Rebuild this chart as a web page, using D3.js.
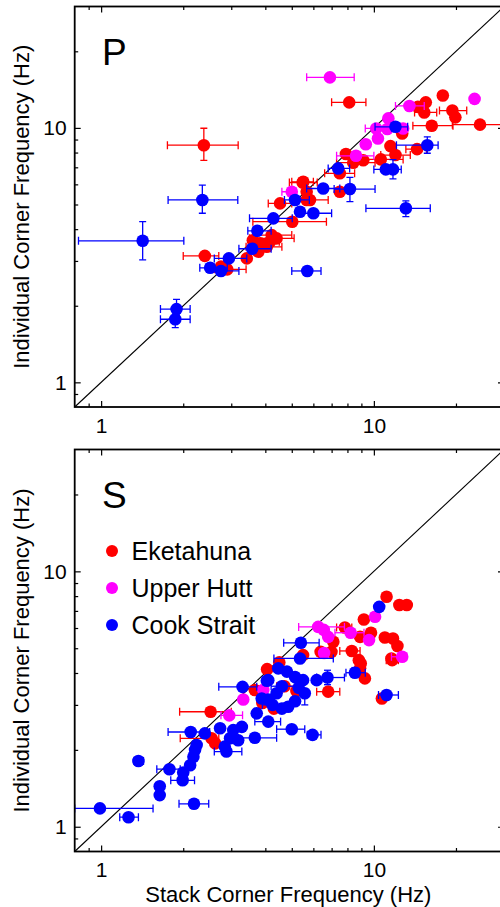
<!DOCTYPE html>
<html><head><meta charset="utf-8">
<script src="https://cdn.jsdelivr.net/npm/d3@7"></script>
<style>
body{margin:0;background:#fff}
svg{display:block;font-family:"Liberation Sans",Arial,Helvetica,sans-serif}
</style>
</head><body><svg id="chart" width="500" height="907"></svg>
<script>
// ---------- data ----------
const stations = ["Eketahuna", "Upper Hutt", "Cook Strait"];
const stationColors = ["#ff0000", "#ff00ff", "#0000ff"];
const panelLabels = ["P", "S"];
const xTitle = "Stack Corner Frequency (Hz)";
const yTitle = "Individual Corner Frequency (Hz)";
const axisDomain = [0.8, 30];
const majorTicks = [1, 10];
const minorTicks = [0.9, 2, 3, 4, 5, 6, 7, 8, 9, 20];

// rows: [stack fc, individual fc, x err low, x err high, y err low, y err high]
const pEketahuna = [
  [2.38, 8.55, 1.75, 3.18, 7.46, 9.97],
  [8.12, 12.6, 7.0, 9.35], [17.9, 13.4], [15.5, 12.6], [15.3, 11.5, 14.1, 17.0],
  [14.5, 12.1], [19.4, 11.7, 17.4, 21.9], [19.9, 11.0], [24.5, 10.3, 19.4, 32],
  [16.3, 10.2, 13.9, 19.5], [12.7, 9.5], [14.4, 8.25, 13.1, 15.6], [11.5, 8.48],
  [12.0, 7.82, 10.6, 13.6], [10.6, 7.52, 9.3, 12.8], [9.14, 7.46], [8.4, 7.3, 7.3, 10.1],
  [7.5, 6.63, 6.6, 8.5], [5.51, 6.14, 5.0, 6.0], [7.5, 5.61], [5.67, 5.21, 5.0, 6.8],
  [2.4, 3.14, 2.0, 2.7], [2.75, 2.85], [2.9, 2.78, 2.6, 3.4], [3.42, 3.07], [3.77, 3.26],
  [3.83, 3.52], [4.22, 3.79, 3.6, 5.0], [4.16, 3.57, 3.5, 4.5], [3.6, 3.62],
  [4.53, 5.05, 4.1, 5.0], [5.48, 6.1, 4.9, 6.2], [5.02, 4.28, 3.6, 6.7], [5.83, 5.21],
  [5.67, 5.61], [4.05, 3.41, 3.4, 4.6], [4.4, 3.68, 3.5, 5.1], [7.9, 7.9]
];
const pUpperHutt = [
  [6.9, 15.8, 5.67, 8.47], [23.4, 13.0], [13.5, 12.2, 12.0, 15.3], [11.3, 10.9],
  [10.2, 9.95, 9.3, 11.5], [12.8, 9.95], [11.2, 9.9], [10.35, 9.08], [9.34, 8.63],
  [8.6, 7.77, 7.3, 10.0], [5.0, 5.61, 4.6, 5.2]
];
const pCookStrait = [
  [12.0, 10.1, 10.1, 13.3], [15.7, 8.55, 12.1, 17.2, 7.95, 9.22], [11.06, 6.87, 10.0, 12.6],
  [11.75, 6.87, null, null, 6.3, 7.5], [7.4, 6.93, 6.8, 8.15], [6.52, 5.78, 5.67, 7.5],
  [8.17, 5.75, 7.15, 10.1, 5.13, 6.39], [13.1, 4.83, 9.35, 16.1, 4.48, 5.17],
  [6.0, 4.62, 5.3, 7.0], [5.36, 4.68], [5.7, 2.74, 5.0, 6.4],
  [2.35, 5.21, 1.76, 3.17, 4.62, 5.96], [5.14, 5.21, 4.7, 5.8], [4.28, 4.41, 3.5, 5.02],
  [3.74, 3.94, 3.45, 4.2], [3.58, 3.35, 3.2, 4.2], [2.94, 3.07, 2.6, 3.42],
  [2.51, 2.82, 2.3, 2.9], [2.75, 2.74, 2.65, 3.2], [1.42, 3.6, 0.826, 2.01, 3.03, 4.28],
  [1.89, 1.94, 1.65, 2.12, 1.84, 2.12], [1.87, 1.77, 1.65, 2.12, 1.64, 1.93]
];
const sEketahuna = [
  [11.13, 7.95], [12.4, 7.38], [13.2, 7.38], [9.19, 6.48], [7.83, 6.03, 7.3, 8.3],
  [9.76, 5.75], [8.9, 5.54], [10.97, 5.51], [11.75, 5.46], [12.2, 5.1], [7.1, 5.3],
  [11.6, 4.56], [8.3, 4.88, 7.5, 8.9], [6.38, 4.84], [8.81, 4.49], [11.67, 4.49, 11.1, 12.3],
  [9.27, 3.81], [8.9, 4.17], [4.06, 4.14], [6.8, 3.38, 6.17, 7.5], [10.7, 3.18],
  [2.52, 2.82, 1.94, 3.0], [2.54, 2.22, 1.95, 2.7], [8.95, 4.36], [6.99, 4.84],
  [5.5, 4.7], [3.66, 3.43], [3.9, 3.05], [4.3, 2.9], [3.85, 3.4], [2.62, 2.12],
  [4.5, 4.4], [4.7, 3.55, 4.4, 5.2], [5.2, 3.4]
];
const sUpperHutt = [
  [10.1, 6.64], [6.25, 6.06, 5.3, 7.8], [6.55, 5.9], [6.8, 5.54], [8.22, 5.75, 7.2, 9.2],
  [9.6, 5.38], [12.7, 4.63, 11.6, 13.2], [6.57, 4.79], [3.93, 3.43], [3.32, 3.15],
  [2.95, 2.73, 2.75, 3.3]
];
const sCookStrait = [
  [10.46, 7.26], [5.4, 5.25, 4.67, 6.3], [5.36, 4.56, 4.3, 7.1],
  [8.52, 4.01, 7.9, 9.3, 3.86, 4.2], [4.46, 4.17], [4.8, 4.05], [5.14, 3.86], [5.5, 3.75],
  [6.17, 3.75], [6.76, 3.84, 6.17, 7.8, 3.6, 4.1], [3.3, 3.53, 2.7, 3.72], [4.1, 3.75],
  [5.58, 3.33, null, null, 3.0, 3.45], [4.4, 3.33], [3.88, 3.18], [4.1, 3.15], [5.14, 3.1],
  [4.85, 2.95], [4.6, 2.9], [3.72, 2.78], [11.13, 3.28, 10.4, 12.3], [4.1, 2.58, 3.66, 4.55],
  [5.0, 2.41, 4.4, 5.58], [5.96, 2.29, 5.7, 6.4], [2.13, 2.35, 1.76, 2.5], [2.4, 2.32],
  [2.73, 2.43], [3.05, 2.39], [3.28, 2.46], [2.97, 2.22], [3.18, 2.18],
  [3.66, 2.23, 3.18, 4.4], [2.88, 1.97, 2.6, 3.28], [2.84, 2.06], [2.24, 2.09], [2.21, 2.0],
  [2.18, 1.88], [2.12, 1.74], [1.78, 1.68, 1.6, 1.95], [2.0, 1.63], [1.99, 1.52, 1.8, 2.2],
  [1.64, 1.44], [1.64, 1.33], [1.37, 1.81, 1.32, 1.43], [2.19, 1.23, 1.93, 2.48],
  [0.99, 1.18, 0.8, 1.55], [1.26, 1.09, 1.17, 1.37], [4.05, 3.73],
  [4.6, 3.55, 4.2, 5.3], [5.3, 3.5], [4.25, 3.0, 3.9, 4.9]
];
const panelData = [
  [pEketahuna, pUpperHutt, pCookStrait],
  [sEketahuna, sUpperHutt, sCookStrait]
];

// ---------- layout ----------
const svg = d3.select("#chart");
const left = 74.7, right = 504;
const panelBoxes = [{top: 6.5, bottom: 407}, {top: 449.5, bottom: 851.5}];
const x = d3.scaleLog().domain(axisDomain).range([left, right]);
const R = 6.3;

svg.append("defs").selectAll("clipPath").data(panelBoxes).join("clipPath")
  .attr("id", (d, i) => "clip" + i)
  .append("rect").attr("x", left).attr("y", d => d.top)
  .attr("width", right - left).attr("height", d => d.bottom - d.top);

panelBoxes.forEach((box, pi) => {
  const y = d3.scaleLog().domain(axisDomain).range([box.bottom, box.top]);
  const g = svg.append("g");

  // diagonal 1:1
  g.append("line")
    .attr("x1", x(axisDomain[0])).attr("y1", y(axisDomain[0]))
    .attr("x2", x(axisDomain[1])).attr("y2", y(axisDomain[1]))
    .attr("stroke", "#000").attr("stroke-width", 1.1);

  const plot = g.append("g").attr("clip-path", `url(#clip${pi})`);
  panelData[pi].forEach((rows, si) => {
    const col = stationColors[si];
    const eg = plot.append("g").attr("stroke", col).attr("stroke-width", 1.3).attr("fill", "none");
    rows.forEach(r => {
      const [xv, yv, xl, xh, yl, yh] = r;
      if (xl != null && xh != null) {
        const yy = y(yv);
        eg.append("line").attr("x1", x(xl)).attr("x2", x(xh)).attr("y1", yy).attr("y2", yy);
        [xl, xh].forEach(e => eg.append("line").attr("x1", x(e)).attr("x2", x(e))
          .attr("y1", yy - 4).attr("y2", yy + 4));
      }
      if (yl != null && yh != null) {
        const xx = x(xv);
        eg.append("line").attr("x1", xx).attr("x2", xx).attr("y1", y(yl)).attr("y2", y(yh));
        [yl, yh].forEach(e => eg.append("line").attr("y1", y(e)).attr("y2", y(e))
          .attr("x1", xx - 3.5).attr("x2", xx + 3.5));
      }
    });
    plot.append("g").selectAll("circle").data(rows).join("circle")
      .attr("cx", d => x(d[0])).attr("cy", d => y(d[1])).attr("r", R).attr("fill", col);
  });

  // axes (ticks inward on all four sides)
  const fmt = d => d3.format("d")(d);
  const styleAxis = sel => {
    sel.select(".domain").remove();
    sel.selectAll("line").attr("stroke", "#000").attr("stroke-width", 1.2);
    sel.selectAll("text").attr("fill", "#000").attr("font-size", 21)
      .attr("font-family", '"Liberation Sans",Arial,sans-serif');
  };
  // bottom
  g.append("g").attr("transform", `translate(0,${box.bottom})`)
    .call(d3.axisBottom(x).tickValues(majorTicks).tickSize(-6).tickPadding(11).tickFormat(fmt)).call(styleAxis);
  g.append("g").attr("transform", `translate(0,${box.bottom})`)
    .call(d3.axisBottom(x).tickValues(minorTicks).tickSize(-3.5).tickFormat(() => "")).call(styleAxis);
  // top
  g.append("g").attr("transform", `translate(0,${box.top})`)
    .call(d3.axisTop(x).tickValues(majorTicks).tickSize(-6).tickFormat(() => "")).call(styleAxis);
  g.append("g").attr("transform", `translate(0,${box.top})`)
    .call(d3.axisTop(x).tickValues(minorTicks).tickSize(-3.5).tickFormat(() => "")).call(styleAxis);
  // left
  g.append("g").attr("transform", `translate(${left},0)`)
    .call(d3.axisLeft(y).tickValues(majorTicks).tickSize(-6).tickPadding(8).tickFormat(fmt)).call(styleAxis);
  g.append("g").attr("transform", `translate(${left},0)`)
    .call(d3.axisLeft(y).tickValues(minorTicks).tickSize(-3.5).tickFormat(() => "")).call(styleAxis);
  // right
  g.append("g").attr("transform", `translate(${right},0)`)
    .call(d3.axisRight(y).tickValues(majorTicks).tickSize(-6).tickFormat(() => "")).call(styleAxis);
  g.append("g").attr("transform", `translate(${right},0)`)
    .call(d3.axisRight(y).tickValues(minorTicks).tickSize(-3.5).tickFormat(() => "")).call(styleAxis);

  // frame
  g.append("rect").attr("x", left).attr("y", box.top)
    .attr("width", right - left).attr("height", box.bottom - box.top)
    .attr("fill", "none").attr("stroke", "#000").attr("stroke-width", 1.8);

  // panel label
  g.append("text").attr("x", 102).attr("y", box.top + 58.5)
    .attr("font-size", 37).attr("fill", "#000").text(panelLabels[pi]);

  // y title
  g.append("text")
    .attr("transform", `translate(29,${(box.top + box.bottom) / 2}) rotate(-90)`)
    .attr("text-anchor", "middle").attr("font-size", 22).attr("fill", "#000").text(yTitle);
});

// x title
svg.append("text").attr("x", (left + right) / 2 - 1).attr("y", 901.5)
  .attr("text-anchor", "middle").attr("font-size", 22).attr("fill", "#000").text(xTitle);

// legend (S panel)
const leg = svg.append("g");
stations.forEach((name, i) => {
  const cy = 551 + i * 37;
  leg.append("circle").attr("cx", 112).attr("cy", cy).attr("r", 6).attr("fill", stationColors[i]);
  leg.append("text").attr("x", 131.5).attr("y", cy + 8.5).attr("font-size", 25)
    .attr("fill", "#000").text(name);
});
</script>
</body></html>
